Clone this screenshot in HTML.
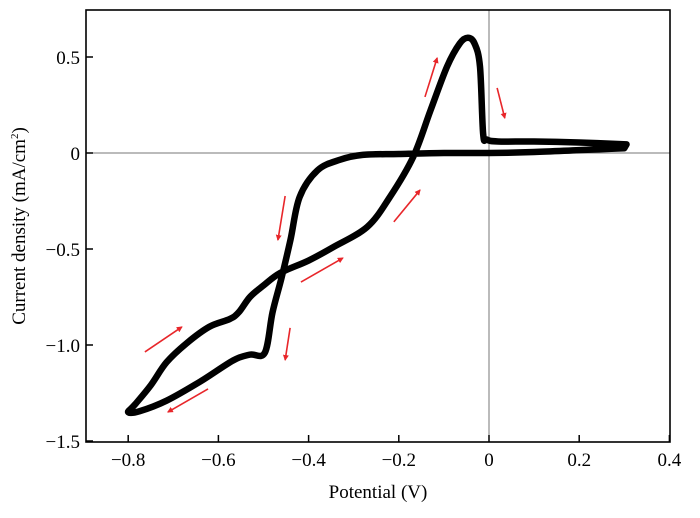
<!DOCTYPE html>
<html><head><meta charset="utf-8"><style>
body{margin:0;background:#fff}
svg{display:block;font-family:"Liberation Serif",serif}
</style></head><body>
<svg id="chart" width="700" height="518" viewBox="0 0 700 518"></svg>
<script>
const xTicks=[-0.8,-0.6,-0.4,-0.2,0,0.2,0.4];
const xTickLabels=["\u22120.8","\u22120.6","\u22120.4","\u22120.2","0","0.2","0.4"];
const yTicks=[0.5,0,-0.5,-1.0,-1.5];
const yTickLabels=["0.5","0","\u22120.5","\u22121.0","\u22121.5"];
// CV loop potential (V) and current density (mA/cm2), traced in scan order
const potential=[0.30,0.2,0.1,0,-0.1,-0.2,-0.28,-0.33,-0.38,-0.42,-0.44,-0.46,-0.48,-0.497,-0.53,-0.567,-0.64,-0.715,-0.775,-0.80,-0.785,-0.75,-0.715,-0.67,-0.62,-0.575,-0.555,-0.53,-0.5,-0.463,-0.40,-0.345,-0.27,-0.22,-0.168,-0.13,-0.093,-0.065,-0.047,-0.032,-0.02,-0.013,-0.005,0.02,0.1,0.2,0.305];
const current=[0.025,0.015,0.005,0.0,0.0,-0.005,-0.01,-0.035,-0.09,-0.23,-0.45,-0.65,-0.83,-1.04,-1.05,-1.08,-1.19,-1.29,-1.345,-1.35,-1.31,-1.21,-1.09,-0.99,-0.905,-0.865,-0.83,-0.75,-0.69,-0.625,-0.56,-0.49,-0.385,-0.23,-0.02,0.22,0.45,0.57,0.60,0.57,0.45,0.10,0.07,0.06,0.06,0.055,0.045];
// direction arrows: [v1,c1,v2,c2]
const arrows=[[-0.763,-1.036,-0.681,-0.906],[-0.623,-1.229,-0.712,-1.349],[-0.417,-0.672,-0.324,-0.547],[-0.452,-0.224,-0.468,-0.453],[-0.441,-0.911,-0.452,-1.078],[-0.211,-0.359,-0.153,-0.193],[-0.142,0.292,-0.115,0.495],[0.018,0.339,0.035,0.182]];

const L=86,R=670,T=10,B=442;
const X=v=>489+v*451;
const Y=c=>153-c*192;
const svg=document.getElementById('chart');
const NS='http://www.w3.org/2000/svg';
function mk(t,a,p){const e=document.createElementNS(NS,t);for(const k in a)e.setAttribute(k,a[k]);(p||svg).appendChild(e);return e;}

let e=mk('line',{x1:L,x2:R,y1:Y(0),y2:Y(0),stroke:'#777','stroke-width':1});


e=mk('line',{x1:X(0),x2:X(0),y1:T,y2:B,stroke:'#777','stroke-width':1});



const pts=potential.map((v,i)=>[X(v),Y(current[i])]);
let d='M'+pts[0][0]+','+pts[0][1];
for(let i=0;i<pts.length-1;i++){
 const p0=pts[Math.max(0,i-1)],p1=pts[i],p2=pts[i+1],p3=pts[Math.min(pts.length-1,i+2)];
 const c1=[p1[0]+(p2[0]-p0[0])/6,p1[1]+(p2[1]-p0[1])/6];
 const c2=[p2[0]-(p3[0]-p1[0])/6,p2[1]-(p3[1]-p1[1])/6];
 d+=` C${c1[0]},${c1[1]} ${c2[0]},${c2[1]} ${p2[0]},${p2[1]}`;
}
d+='Z';
e=mk('path',{d:d,fill:'none',stroke:'#000','stroke-width':6.5,'stroke-linejoin':'round'});



const defs=mk('defs',{});
const m=mk('marker',{id:'ah',markerWidth:6,markerHeight:6,refX:5,refY:3,orient:'auto',markerUnits:'userSpaceOnUse'},defs);
mk('path',{d:'M0,0 L6,3 L0,6 Z',fill:'#e8262a'},m);
arrows.forEach((a,i)=>{
 const l=mk('line',{x1:X(a[0]),y1:Y(a[1]),x2:X(a[2]),y2:Y(a[3]),stroke:'#e8262a','stroke-width':1.6,'marker-end':'url(#ah)'});
 
 
});

e=mk('rect',{x:L,y:T,width:R-L,height:B-T,fill:'none',stroke:'#000','stroke-width':1.6});



xTicks.forEach((v,i)=>{
 const t=mk('line',{x1:X(v),x2:X(v),y1:B,y2:B-7,stroke:'#000','stroke-width':1.5});
 
 
 const s=mk('text',{x:X(v),y:B+24,'text-anchor':'middle','font-size':19});
 s.textContent=xTickLabels[i];
 
 
});
yTicks.forEach((c,i)=>{
 const t=mk('line',{x1:L,x2:L+7,y1:Y(c),y2:Y(c),stroke:'#000','stroke-width':1.5});
 
 
 const s=mk('text',{x:L-6,y:Y(c)+7,'text-anchor':'end','font-size':19});
 s.textContent=yTickLabels[i];
 
 
});
e=mk('text',{x:378,y:498,'text-anchor':'middle','font-size':19});
e.textContent='Potential (V)';


e=mk('text',{x:0,y:0,'text-anchor':'middle','font-size':19,transform:'translate(25,226) rotate(-90)'});
e.innerHTML='Current density (mA/cm<tspan dy="-7" font-size="11">2</tspan><tspan dy="7">)</tspan>';


</script>
</body></html>
